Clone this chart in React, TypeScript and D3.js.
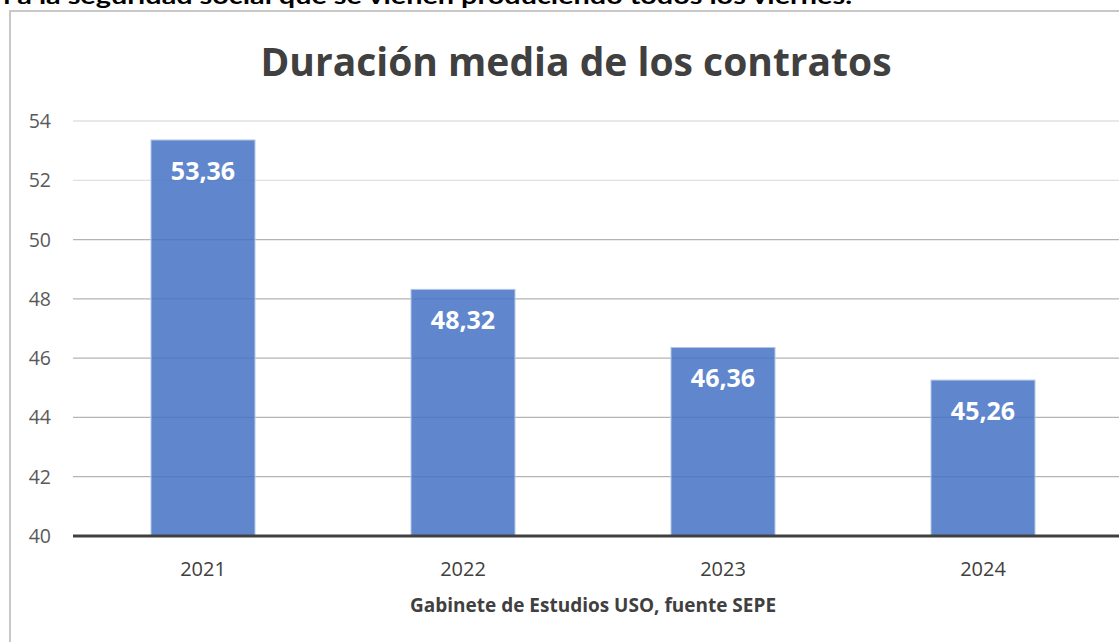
import React from 'react';
import * as d3 from 'd3';

const years = ['2021', '2022', '2023', '2024'];
const durations = [53.36, 48.32, 46.36, 45.26];
const yTicks = [40, 42, 44, 46, 48, 50, 52, 54];

const W = 1119;
const H = 642;
const FONT = "'Open Sans', 'Noto Sans', sans-serif";

const App: React.FC = () => {
  const x = d3.scaleBand<string>().domain(years).range([73, 1113]).paddingInner(0.6).paddingOuter(0.3);
  const y = d3.scaleLinear().domain([40, 54]).range([536, 121]);
  const fmt = (v: number) => v.toFixed(2).replace('.', ',');

  return (
    <svg width={W} height={H} style={{ position: 'absolute', left: 0, top: 0, background: '#fff' }} fontFamily={FONT}>
      {/* cut-off paragraph text above the chart */}
      <text x={-6} y={4} fontSize={22} fontWeight="bold" fill="#000" fontFamily="Lato, sans-serif" textLength={858} lengthAdjust="spacingAndGlyphs">
        n a la seguridad social que se vienen produciendo todos los viernes.
      </text>
      {/* chart frame */}
      <line x1={10} x2={W} y1={11} y2={11} stroke="#c8c8c8" strokeWidth={2} />
      <line x1={10} x2={10} y1={10} y2={H} stroke="#c8c8c8" strokeWidth={2} />

      <text x={576} y={76} textAnchor="middle" fontSize={39} fontWeight="bold" fill="#404040">
        Duración media de los contratos
      </text>

      {yTicks.slice(1).map(t => (
        <line key={t} x1={73} x2={W} y1={y(t)} y2={y(t)} stroke={t >= 52 ? '#e0e0e0' : '#b4b4b4'} strokeWidth={1.3} />
      ))}
      {yTicks.map(t => (
        <text key={t} x={51} y={y(t) + 7} textAnchor="end" fontSize={19.5} fill="#595959">{t}</text>
      ))}

      {years.map((yr, i) => (
        <g key={yr}>
          <rect
            x={x(yr)}
            y={y(durations[i])}
            width={x.bandwidth()}
            height={y(40) - y(durations[i])}
            fill="#4472c4"
            fillOpacity={0.85}
            stroke="#b4c7e7"
            strokeWidth={1}
          />
          <text
            x={(x(yr) as number) + x.bandwidth() / 2}
            y={y(durations[i]) + 40}
            textAnchor="middle"
            fontSize={25}
            fontWeight="bold"
            fill="#fff"
          >
            {fmt(durations[i])}
          </text>
          <text
            x={(x(yr) as number) + x.bandwidth() / 2}
            y={576}
            textAnchor="middle"
            fontSize={20}
            fill="#404040"
          >
            {yr}
          </text>
        </g>
      ))}
      <line x1={73} x2={W} y1={y(40)} y2={y(40)} stroke="#404040" strokeWidth={3} />

      <text x={593} y={612} textAnchor="middle" fontSize={19} fontWeight="bold" fill="#404040">
        Gabinete de Estudios USO, fuente SEPE
      </text>
    </svg>
  );
};

export default App;
